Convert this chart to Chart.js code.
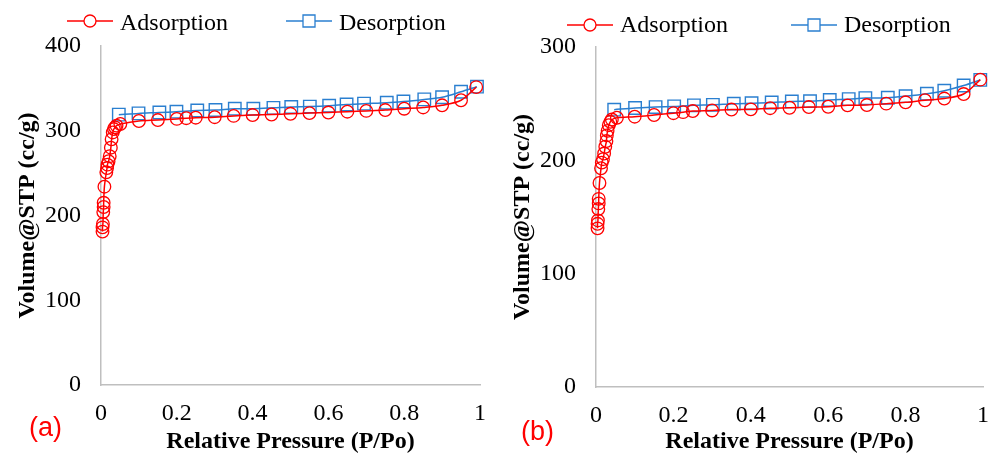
<!DOCTYPE html>
<html lang="en">
<head>
<meta charset="UTF-8">
<title>N2 Isotherms</title>
<style>
  body { margin: 0; background: #fff; }
  .row { display: flex; width: 989px; height: 455px; }
  canvas { display: block; }
</style>
<script src="https://cdn.jsdelivr.net/npm/chart.js"></script>
</head>
<body>
<div class="row">
  <canvas id="chartA" width="495" height="455"></canvas>
  <canvas id="chartB" width="494" height="455"></canvas>
</div>
<script>
// (a) adsorption branch
const adsAX = [0.004, 0.004, 0.005, 0.006, 0.007, 0.007, 0.009, 0.014, 0.016, 0.017, 0.020, 0.023, 0.026,
  0.028, 0.031, 0.034, 0.037, 0.041, 0.051, 0.10, 0.15, 0.20, 0.225, 0.25, 0.30, 0.35, 0.40, 0.45,
  0.50, 0.55, 0.60, 0.65, 0.70, 0.75, 0.80, 0.85, 0.90, 0.95, 0.99];
const adsAY = [181, 186, 190, 204, 210, 215, 234, 251, 256, 260, 264, 270, 280,
  290, 298, 302, 304, 306, 308, 311.5, 312.6, 314, 314.8, 315.4, 316, 317.5, 318.5, 319.2,
  320, 320.8, 321.5, 322.5, 323.4, 324.4, 326, 327.5, 330, 336, 351.5];
// (a) desorption branch
const desAX = [0.992, 0.95, 0.90, 0.853, 0.798, 0.754, 0.694, 0.648, 0.602, 0.551, 0.502, 0.455, 0.402,
  0.353, 0.302, 0.254, 0.199, 0.154, 0.099, 0.047];
const desAY = [352, 346, 339.5, 337, 334.5, 333, 332, 331, 329.5, 328.5, 328, 327, 326,
  326, 324.5, 324, 322.5, 321.5, 320.5, 319];

// (b) adsorption branch
const adsBX = [0.004, 0.004, 0.005, 0.006, 0.007, 0.007, 0.009, 0.013, 0.015, 0.018, 0.021, 0.024, 0.027,
  0.028, 0.030, 0.033, 0.037, 0.041, 0.054, 0.10, 0.15, 0.20, 0.225, 0.25, 0.30, 0.35, 0.40, 0.45,
  0.50, 0.55, 0.60, 0.65, 0.70, 0.75, 0.80, 0.85, 0.90, 0.95, 0.993];
const adsBY = [140, 144, 147, 157, 162, 166, 180, 193, 198, 201, 206, 212, 217,
  222, 226, 231, 234, 236, 237.6, 238.5, 240, 241.6, 242.5, 243.5, 244, 244.8, 245, 246,
  246.4, 247, 247.3, 248.5, 248.8, 250, 251.2, 253, 254.5, 258.5, 271.2];
// (b) desorption branch
const desBX = [0.993, 0.95, 0.90, 0.855, 0.80, 0.754, 0.696, 0.653, 0.604, 0.553, 0.506, 0.454, 0.402,
  0.356, 0.302, 0.253, 0.202, 0.154, 0.101, 0.047];
const desBY = [271, 266, 261.4, 258.8, 256.6, 255.2, 254.9, 254, 253.2, 252.2, 252, 251, 250.4,
  250, 249, 248.5, 247.6, 247, 246.2, 244.7];

const seriesNames = ['Adsorption', 'Desorption'];
const panelNames = ['(a)', '(b)'];
const xTitle = 'Relative Pressure (P/Po)';
const yTitle = 'Volume@STP (cc/g)';

const RED = '#ff0000';
const BLUE = '#2a7fd0';
const SERIF = "'Liberation Serif', 'Times New Roman', serif";

function zip(xs, ys) {
  return xs.map((x, i) => ({ x: x, y: ys[i] }));
}

// legend drawn like the Excel one: short line with the marker on it
const isoLegend = {
  id: 'isoLegend',
  afterDraw(chart, args, opts) {
    const ctx = chart.ctx;
    ctx.save();
    chart.data.datasets.forEach((ds, i) => {
      const x0 = opts.lineX[i];
      const cx = x0 + opts.lineW / 2;
      ctx.strokeStyle = ds.borderColor;
      ctx.lineWidth = 1.5;
      ctx.beginPath();
      ctx.moveTo(x0, opts.lineY);
      ctx.lineTo(x0 + opts.lineW, opts.lineY);
      ctx.stroke();
      ctx.fillStyle = '#fff';
      ctx.lineWidth = 1.3;
      ctx.beginPath();
      if (ds.pointStyle === 'rect') {
        ctx.rect(cx - 6, opts.lineY - 6, 12, 12);
      } else {
        ctx.arc(cx, opts.lineY, 6, 0, Math.PI * 2);
      }
      ctx.fill();
      ctx.stroke();
      ctx.fillStyle = '#000';
      ctx.font = '24px ' + SERIF;
      ctx.textBaseline = 'alphabetic';
      ctx.fillText(ds.label, x0 + opts.lineW + 7, opts.textY);
    });
    ctx.fillStyle = RED;
    ctx.font = "27px 'Liberation Sans', Arial, sans-serif";
    ctx.textAlign = 'center';
    ctx.textBaseline = 'middle';
    ctx.fillText(opts.panel, opts.panelX, opts.panelY);
    ctx.restore();
  }
};

function makeChart(id, ads, des, yMax, cfg) {
  return new Chart(document.getElementById(id), {
    type: 'scatter',
    data: {
      datasets: [{
        label: seriesNames[0],
        data: ads,
        borderColor: RED,
        backgroundColor: 'rgba(0,0,0,0)',
        borderWidth: 1.5,
        pointStyle: 'circle',
        pointRadius: 6.3,
        pointBorderWidth: 1.3,
        showLine: true,
        tension: 0.3,
        clip: false
      }, {
        label: seriesNames[1],
        data: des,
        borderColor: BLUE,
        backgroundColor: 'rgba(0,0,0,0)',
        borderWidth: 1.5,
        pointStyle: 'rect',
        pointRadius: 8.8,
        pointBorderWidth: 1.4,
        showLine: true,
        tension: 0.3,
        clip: false
      }]
    },
    options: {
      responsive: false,
      animation: false,
      layout: {
        autoPadding: false,
        padding: { top: cfg.top, right: cfg.right, left: 0, bottom: 0 }
      },
      plugins: {
        legend: { display: false },
        tooltip: { enabled: false },
        isoLegend: cfg.legend
      },
      scales: {
        x: {
          type: 'linear',
          min: 0,
          max: 1,
          grid: { display: false, drawTicks: false, tickLength: 0 },
          border: { display: true, color: '#bfbfbf', width: 1.5 },
          ticks: {
            stepSize: 0.2,
            padding: 14,
            color: '#000',
            font: { family: SERIF, size: 24 },
            callback: (v) => String(Number(v.toFixed(1)))
          },
          title: {
            display: true,
            text: xTitle,
            color: '#000',
            font: { family: SERIF, size: 24, weight: 'bold', lineHeight: 1.1 },
            padding: { top: 0, bottom: 0 }
          },
          afterFit(scale) {
            scale.height = cfg.xHeight;
            // only let the end labels overhang by half their width
            scale.paddingLeft = 6;
            scale.paddingRight = 6;
          }
        },
        y: {
          min: 0,
          max: yMax,
          grid: { display: false, drawTicks: false, tickLength: 0 },
          border: { display: true, color: '#bfbfbf', width: 1.5 },
          ticks: { stepSize: 100, padding: 20, color: '#000', font: { family: SERIF, size: 24 } },
          title: {
            display: true,
            text: yTitle,
            color: '#000',
            font: { family: SERIF, size: 24, weight: 'bold', lineHeight: 1.2 },
            padding: { top: 13, bottom: 0 }
          },
          afterFit(scale) { scale.width = 101; }
        }
      }
    },
    plugins: [isoLegend]
  });
}

makeChart('chartA', zip(adsAX, adsAY), zip(desAX, desAY), 400, {
  top: 46, right: 15, xHeight: 70,
  legend: { lineX: [67, 286], lineW: 46, lineY: 21, textY: 29.5, panel: panelNames[0], panelX: 45.5, panelY: 429 }
});
makeChart('chartB', zip(adsBX, adsBY), zip(desBX, desBY), 300, {
  top: 47, right: 6, xHeight: 68,
  legend: { lineX: [72, 296], lineW: 46, lineY: 25, textY: 32, panel: panelNames[1], panelX: 42.5, panelY: 433 }
});
</script>
</body>
</html>
